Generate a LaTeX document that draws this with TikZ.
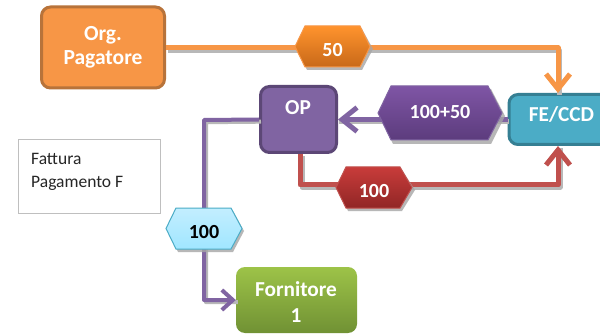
\documentclass[tikz,border=0pt]{standalone}
\usepackage{fontspec}
\setmainfont{Carlito}
\usetikzlibrary{arrows.meta}
\definecolor{orgF}{HTML}{F79646}\definecolor{orgD}{HTML}{B8733A}
\definecolor{opF}{HTML}{8064A2}\definecolor{opD}{HTML}{5C4776}
\definecolor{feF}{HTML}{4BACC6}\definecolor{feD}{HTML}{357F93}
\definecolor{redL}{HTML}{C0504D}
\definecolor{grT}{HTML}{9DC348}\definecolor{grB}{HTML}{709134}
\definecolor{hoT}{HTML}{FF932D}\definecolor{hoB}{HTML}{C86919}
\definecolor{hpT}{HTML}{7F55A5}\definecolor{hpB}{HTML}{5C3C7D}
\definecolor{hrT}{HTML}{C83C3A}\definecolor{hrB}{HTML}{912626}
\definecolor{hbT}{HTML}{C3EEFF}\definecolor{hbB}{HTML}{A0E6FF}
\tikzset{
 x=1pt,y=-1pt,
 boxnode/.style={rounded corners=9pt,line width=3pt,align=center,text=white,font=\fontsize{21.5}{25}\selectfont\bfseries,inner sep=0pt},
 boxtext/.style={align=center,font=\fontsize{21.3}{25.5}\selectfont\bfseries,text=white,inner sep=0pt},
 hexlabel/.style={inner sep=0pt,font=\fontsize{20}{22}\selectfont\bfseries,text=white},
 conn/.style={line width=#1,line join=round},
 shade line/.style={draw=black!28,transform canvas={xshift=#1,yshift=-2.2pt}},
 hexshadow/.style={fill=black!35,opacity=.8},
 tipb/.style={-{Straight Barb[length=15pt,width=24pt,line width=5pt]}},
 tipc/.style={-{Straight Barb[length=11pt,width=20pt,line width=4pt]}},
}
\begin{document}
\begin{tikzpicture}
\clip (0,0) rectangle (600,334);
\useasboundingbox (0,0) rectangle (600,334);
\fill[white] (0,0) rectangle (600,334);
\coordinate (a1) at (558,48);
\coordinate (a2) at (204,120);
\coordinate (a3) at (204,300);
\coordinate (a4) at (300,185);
\coordinate (a5) at (558,185);
\coordinate (a6) at (300,154);
\coordinate (feN) at (558,93);
\coordinate (feS) at (558,146);
% nodes
\node[rounded corners=9pt,top color=grT,bottom color=grB,minimum width=121pt,minimum height=66pt,inner sep=0pt] (forn) at (296.5,300) {};
\node[boxnode,draw=feD,fill=feF,minimum width=100pt,minimum height=50pt] (fe) at (559,119.5) {};
\node[boxnode,draw=opD,fill=opF,minimum width=76pt,minimum height=66pt] (op) at (298.5,119.5) {};
\node[boxnode,draw=orgD,fill=orgF,minimum width=123pt,minimum height=81pt] (org) at (103,47.5) {Org.\\[-1pt]Pagatore};
\node[draw=black!25,line width=1pt,minimum width=142pt,minimum height=73pt,inner sep=0pt] (note) at (89,176.5) {};
% connector shadows
\draw[conn=5pt,shade line=1.5pt] (org.east |- a1) -- (a1) -- (feN);
\draw[conn=5pt,shade line=1pt] (fe.west) -- (op.east);
\draw[conn=4pt,shade line=2pt] (op.west) -- (a2) -- (a3) -- (forn.west);
\draw[conn=5pt,shade line=2pt] (a6) -- (a4) -- (a5) -- (feS);
% connectors
\draw[conn=5pt,orgF,tipb] (org.east |- a1) -- (a1) -- (feN);
\draw[conn=5pt,opF,tipb] (fe.west) -- (op.east);
\draw[conn=4pt,opF,tipc] (op.west) -- (a2) -- (a3) -- (forn.west);
\draw[conn=5pt,redL,tipb] (a6) -- (a4) -- (a5) -- (feS);
% node texts
\node[boxtext] (optxt) at (298,108) {OP};
\node[boxtext] (fetxt) at (561.5,115) {FE/CCD};
\node[boxtext] (forntxt) at (296,302) {Fornitore\\1};
\node[align=left,anchor=west,font=\fontsize{17.5}{23}\selectfont,text=black!85,inner sep=0pt] (notetxt) at (31,171.5) {Fattura\\Pagamento F};
% hexagons
\fill[hexshadow] (307,29)--(362,29)--(373,49)--(362,70)--(307,70)--(297,49)--cycle;
\path[shade,top color=hoT,bottom color=hoB,draw=orgF,line width=1pt] (305,26)--(360,26)--(370,46.5)--(360,67)--(305,67)--(295,46.5)--cycle;
\node[hexlabel] (n50) at (332.5,50) {50};
\fill[hexshadow] (393,89)--(491,89)--(505,116)--(491,144)--(393,144)--(380,116)--cycle;
\path[shade,top color=hpT,bottom color=hpB,draw=opF,line width=1pt] (391,86)--(488,86)--(502,113)--(488,140)--(391,140)--(378,113)--cycle;
\node[hexlabel] (n150) at (440,112) {100+50};
\fill[hexshadow] (348,170)--(402,170)--(415,190)--(402,211)--(348,211)--(339,190)--cycle;
\path[shade,top color=hrT,bottom color=hrB,draw=redL,line width=1pt] (346,167)--(400,167)--(412,187.5)--(400,208)--(346,208)--(336,187.5)--cycle;
\node[hexlabel] (nred) at (374,191) {100};
\fill[hexshadow] (178,211)--(233,211)--(244,231)--(233,252)--(178,252)--(168,231)--cycle;
\path[shade,top color=hbT,bottom color=hbB,draw=feF,line width=1pt] (176,208)--(231,208)--(242,228.5)--(231,249)--(176,249)--(166,228.5)--cycle;
\node[hexlabel,text=black] (nblue) at (204,232) {100};
\end{tikzpicture}
\end{document}
